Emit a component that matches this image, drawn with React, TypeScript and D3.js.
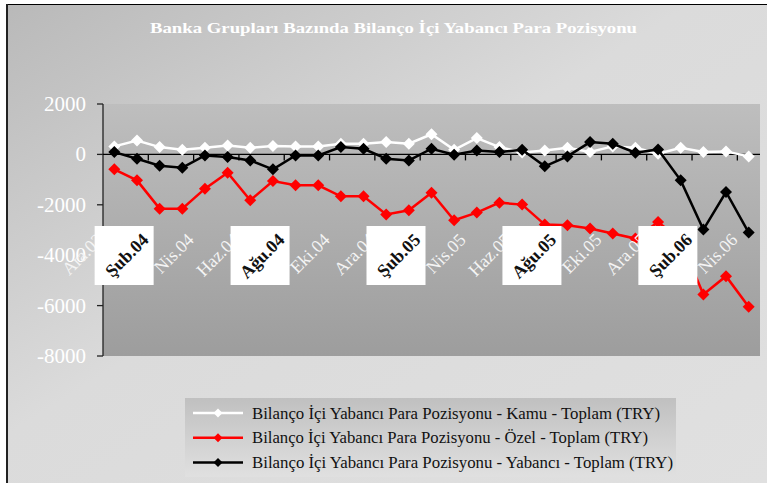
import React from 'react';
import * as d3 from 'd3';

const months = [
  'Ara.03', 'Oca.04', 'Şub.04', 'Mar.04', 'Nis.04', 'May.04', 'Haz.04', 'Tem.04', 'Ağu.04', 'Eyl.04',
  'Eki.04', 'Kas.04', 'Ara.04', 'Oca.05', 'Şub.05', 'Mar.05', 'Nis.05', 'May.05', 'Haz.05', 'Tem.05',
  'Ağu.05', 'Eyl.05', 'Eki.05', 'Kas.05', 'Ara.05', 'Oca.06', 'Şub.06', 'Mar.06', 'Nis.06',
];

const kamu = [
  317, 554, 290, 185, 264, 356, 264, 330, 317, 317, 422, 422, 488, 422, 800, 185, 647, 290, 80, 158,
  264, 92, 317, 264, 26, 264, 92, 119, -79,
];
const ozel = [
  -594, -1030, -2152, -2152, -1360, -726, -1822, -1056, -1228, -1228, -1663, -1663, -2380, -2218, -1518,
  -2614, -2310, -1914, -1993, -2785, -2812, -2944, -3142, -3340, -2681, -3400, -5557, -4832, -6047,
];
const yabanci = [
  92, -172, -449, -528, -40, -106, -238, -594, -40, -40, 290, 224, -172, -238, 224, -13, 158, 92, 185,
  -475, -79, 488, 422, 66, 198, -1030, -2982, -1492, -3102,
];

const yTicks = [2000, 0, -2000, -4000, -6000, -8000];

const seriesNames = [
  'Bilanço İçi Yabancı Para Pozisyonu - Kamu - Toplam (TRY)',
  'Bilanço İçi Yabancı Para Pozisyonu - Özel - Toplam (TRY)',
  'Bilanço İçi Yabancı Para Pozisyonu - Yabancı - Toplam (TRY)',
];
const seriesColors = ['#ffffff', '#ff0000', '#000000'];
// rendered widths of the legend entries in the original
const legendWidths = [408, 396, 421];

const title = 'Banka Grupları Bazında Bilanço İçi Yabancı Para Pozisyonu';

const serif = '"Liberation Serif", "Times New Roman", serif';

const W = 767;
const H = 483;
const plot = { left: 103, right: 760, top: 104, bottom: 356 };

const diamond = (cx: number, cy: number, r: number) =>
  `M${cx},${cy - r}L${cx + r},${cy}L${cx},${cy + r}L${cx - r},${cy}Z`;

export default function App() {
  const x = d3.scaleBand<string>().domain(months).range([plot.left, plot.right]).padding(0);
  const y = d3.scaleLinear().domain([-8000, 2000]).range([plot.bottom, plot.top]);
  const cx = (m: string) => (x(m) as number) + x.bandwidth() / 2;

  const line = d3
    .line<number>()
    .x((_, i) => cx(months[i]))
    .y((d) => y(d));

  const allSeries = [kamu, ozel, yabanci];
  const y0 = y(0);

  return (
    <svg
      width={W}
      height={H}
      style={{ position: 'absolute', left: 0, top: 0, display: 'block', background: '#fff' }}
    >
      <defs>
        <linearGradient id="bg" x1="0" y1="0" x2="1" y2="1">
          <stop offset="0" stopColor="#b9b9b9" />
          <stop offset="0.45" stopColor="#dbdbdb" />
          <stop offset="1" stopColor="#e0e0e0" />
        </linearGradient>
        <linearGradient id="plotbg" x1="0" y1="0" x2="0" y2="1">
          <stop offset="0" stopColor="#bebebe" />
          <stop offset="1" stopColor="#9d9d9d" />
        </linearGradient>
        <linearGradient id="legbg" x1="0" y1="0" x2="0" y2="1">
          <stop offset="0" stopColor="#c0c0c0" />
          <stop offset="1" stopColor="#e0e0e0" />
        </linearGradient>
      </defs>

      {/* outer chart area */}
      <rect x={7} y={4} width={W - 7} height={H - 4} fill="url(#bg)" />
      <line x1={7} y1={4.5} x2={W} y2={4.5} stroke="#000" strokeWidth={1} />
      <line x1={7} y1={4} x2={7} y2={H} stroke="#222" strokeWidth={2} />

      <text
        x={150}
        y={33}
        textLength={487}
        lengthAdjust="spacingAndGlyphs"
        fontFamily={serif}
        fontWeight="bold"
        fontSize={14}
        fill="#fff"
      >
        {title}
      </text>

      {/* plot area */}
      <rect
        x={plot.left}
        y={plot.top}
        width={plot.right - plot.left}
        height={plot.bottom - plot.top}
        fill="url(#plotbg)"
      />

      {/* y axis */}
      <line x1={plot.left} y1={plot.top} x2={plot.left} y2={plot.bottom} stroke="#222" strokeWidth={1.3} />
      {yTicks.map((t) => (
        <g key={t}>
          <line x1={plot.left - 6} x2={plot.left} y1={y(t)} y2={y(t)} stroke="#222" strokeWidth={1.3} />
          <text x={86} y={y(t) + 7} textAnchor="end" fontFamily={serif} fontSize={21} fill="#fff">
            {t}
          </text>
        </g>
      ))}

      {/* zero line with category ticks */}
      <line x1={plot.left} x2={plot.right} y1={y0} y2={y0} stroke="#000" strokeWidth={1.3} />
      {months.map((m, i) =>
        i % 2 === 0 && i > 0 ? (
          <line key={m} x1={x(m)} x2={x(m)} y1={y0} y2={y0 + 6} stroke="#000" strokeWidth={1.3} />
        ) : null
      )}

      {/* series */}
      {allSeries.map((s, si) => (
        <g key={si}>
          <path d={line(s) || ''} fill="none" stroke={seriesColors[si]} strokeWidth={2.5} />
          {s.map((v, i) => (
            <path key={i} d={diamond(cx(months[i]), y(v), 6)} fill={seriesColors[si]} />
          ))}
        </g>
      ))}

      {/* category labels */}
      {months.map((m, i) => {
        if (i % 2 !== 0) return null;
        const ax = cx(m) - 10;
        const ay = 241;
        const boxed = /[^\x00-\x7F]/.test(m);
        return (
          <g key={m}>
            {boxed && <rect x={ax - 55} y={ay - 15} width={59} height={59} fill="#fff" />}
            <text
              transform={`translate(${ax},${ay}) rotate(-45)`}
              textAnchor="end"
              fontFamily={serif}
              fontSize={18}
              fill={boxed ? '#111' : '#f4f4f4'}
              fontWeight={boxed ? 'bold' : 'normal'}
            >
              {m}
            </text>
          </g>
        );
      })}

      {/* legend */}
      <rect x={185} y={398} width={491} height={79} fill="url(#legbg)" />
      {seriesNames.map((n, i) => {
        const ly = 413 + i * 24.7;
        return (
          <g key={n}>
            <line x1={193} x2={243} y1={ly} y2={ly} stroke={seriesColors[i]} strokeWidth={2.5} />
            <path d={diamond(218, ly, 4.5)} fill={seriesColors[i]} />
            <text
              x={252}
              y={ly + 5.5}
              textLength={legendWidths[i]}
              lengthAdjust="spacingAndGlyphs"
              fontFamily={serif}
              fontSize={16}
              fill="#111"
            >
              {n}
            </text>
          </g>
        );
      })}
    </svg>
  );
}
